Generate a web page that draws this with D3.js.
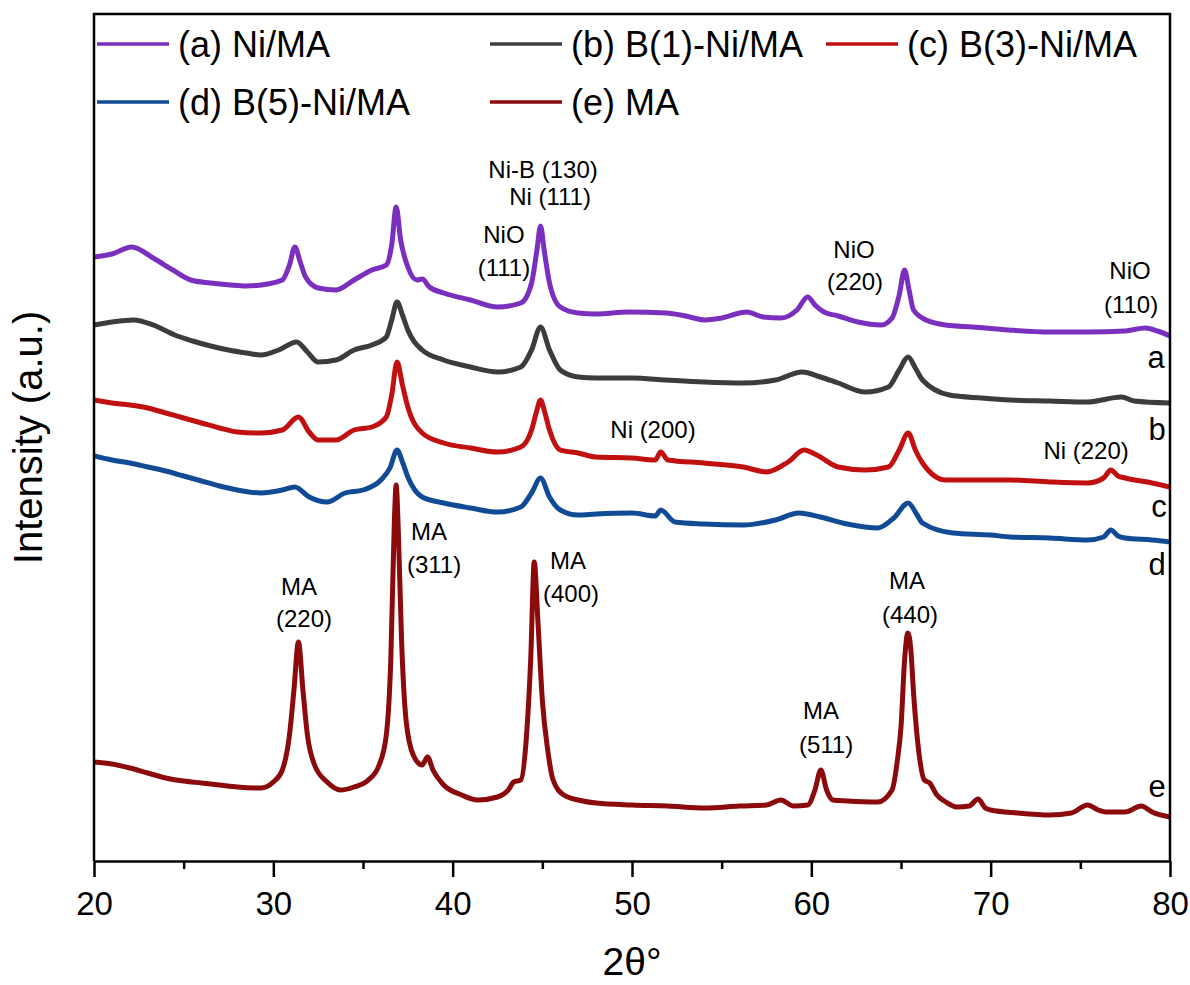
<!DOCTYPE html>
<html>
<head>
<meta charset="utf-8">
<script src="https://cdn.jsdelivr.net/npm/d3@7"></script>
<style>
  body { margin: 0; background: #fff; }
  svg text { font-family: "Liberation Sans", Arial, sans-serif; fill: #000; }
</style>
</head>
<body>
<div id="xrd"></div>
<script>
// XRD patterns, 2theta (deg) vs intensity (a.u., stacked as plotted)
var names = ["(a) Ni/MA", "(b) B(1)-Ni/MA", "(c) B(3)-Ni/MA", "(d) B(5)-Ni/MA", "(e) MA"];
var colors = ["#7b2fbe", "#3c3c3c", "#c0100f", "#114b95", "#8b0a0c"];
var curveTags = ["a", "b", "c", "d", "e"];
var xTicks = [20, 30, 40, 50, 60, 70, 80];

var niMA = [[20,604],[21,607],[22.1,614],[23.3,603],[24.4,591],[25.4,581],[26.5,578],[27.6,576],[28.5,575],[29.3,576],
  [30.5,581],[30.9,596],[31.2,614],[31.5,599],[31.8,584],[32.5,573],[33.5,571],[34.5,581],[35.5,591],[36.3,596],
  [36.6,616],[36.85,654],[37.1,621],[37.5,594],[38.0,581],[38.3,582],[38.7,574],[39.5,568],[41,561],[42.5,554],
  [43.8,558],[44.4,578],[44.7,611],[44.9,635],[45.1,611],[45.4,578],[46,554],[47,548],[48,547],[49.8,549],
  [51.9,548],[53,545],[54.07,541],[55,543],[56.4,549],[57.3,544],[58.3,543],[59.2,551],[59.8,564],[60.2,556],
  [60.7,549],[61.5,545],[62.6,539],[63.9,536],[64.5,543],[64.9,566],[65.2,591],[65.45,571],[65.7,551],[66.4,541],
  [67.5,536],[69,534],[71,531],[73.3,529],[75.4,529],[77.5,530],[78.6,533],[79.3,530],[80,525]];

var b1NiMA = [[20,536],[21,539],[22.2,541],[23.3,536],[24.5,526],[25.5,520],[26.5,515],[27.5,511],[28.5,508],[29.3,506],
  [30.3,511],[31.3,519],[31.9,509],[32.5,499],[33.5,501],[34.5,511],[35.5,516],[36.3,524],[36.6,541],[36.9,559],
  [37.2,546],[37.5,531],[38.3,511],[39.5,501],[41,494],[42.5,489],[43.8,494],[44.4,511],[44.9,534],[45.4,511],
  [46,491],[47,484],[48,483],[50,483],[51.9,481],[54,479],[56.2,478],[58,481],[59.5,489],[60.5,484],
  [61.5,478],[63,469],[64.3,474],[64.9,491],[65.4,504],[65.8,493],[66.2,481],[67.7,466],[69.5,463],[71.1,461],
  [73.3,460],[75.4,459],[77.3,464],[78,460],[80,458]];

var b3NiMA = [[20,461],[21,458],[22,456],[23,453],[24,448],[25,443],[26,438],[27,433],[28,429],[29.3,428],
  [30.5,431],[31.4,444],[32,429],[32.5,421],[33.5,421],[34.5,431],[35.5,434],[36.3,444],[36.6,466],[36.9,499],
  [37.2,476],[37.5,454],[38.3,428],[39.5,418],[41,413],[42.5,409],[43.8,414],[44.4,431],[44.7,451],[44.9,461],
  [45.1,451],[45.4,431],[46,411],[47,408],[48,404],[50,403],[51.3,401],[51.6,409],[52,401],[54,398],
  [56.2,394],[57.5,389],[58.7,399],[59.6,411],[60.3,406],[61.5,394],[63,391],[64.3,394],[64.9,411],[65.4,428],
  [65.8,411],[66.2,398],[67.5,381],[69,381],[71.1,381],[73.3,379],[75.4,378],[76.3,383],[76.7,391],[77.1,385],
  [77.5,383],[79,378],[80,374]];

var b5NiMA = [[20,405],[21,401],[22,398],[23,394],[24,390],[25,385],[26,380],[27,375],[28,371],[29.3,368],
  [30.5,371],[31.2,374],[32,364],[33,359],[34,368],[35,371],[36,381],[36.5,393],[36.9,411],[37.2,399],
  [37.5,384],[38.3,364],[39.5,358],[41,353],[42.5,349],[43.8,354],[44.4,368],[44.9,383],[45.4,364],[46,351],
  [47,346],[48,347],[50,348],[51.3,345],[51.6,351],[52.4,339],[54,337],[56.2,336],[58,341],[59.3,348],
  [60.5,344],[62,337],[63.7,333],[64.6,343],[65.4,358],[65.9,346],[66.2,338],[67.9,328],[70,326],[71.1,324],
  [73.3,323],[75.4,321],[76.3,324],[76.7,331],[77.1,325],[77.5,323],[79,321],[80,319]];

var MA = [[20,99],[21,97],[22,93],[23,88],[24,83],[25,80],[26,78],[27,76],[28,74],[29.3,73],
  [30,79],[30.5,91],[30.9,126],[31.15,171],[31.4,219],[31.65,171],[31.9,126],[32.3,96],[33,79],[33.75,71],
  [34.5,74],[35.3,81],[35.9,96],[36.3,126],[36.55,201],[36.75,341],[36.85,376],[36.95,341],[37.15,221],[37.4,141],
  [37.8,106],[38.3,96],[38.6,104],[38.9,91],[39.5,76],[40.5,66],[41.4,61],[42.5,64],[43.1,71],[43.4,79],
  [43.8,81],[44.1,121],[44.35,201],[44.55,299],[44.75,241],[45.0,161],[45.3,111],[45.6,81],[46.2,66],[47,61],
  [48,58],[50,56],[52,55],[54.07,53],[56,55],[57.5,56],[58.3,61],[59,55],[59.8,56],[60.2,71],
  [60.53,91],[60.85,71],[61.2,61],[62,60],[63.7,59],[64.5,71],[64.8,101],[65.0,134],[65.2,201],[65.38,228],
  [65.55,211],[65.7,168],[66.0,108],[66.3,81],[66.6,78],[67,66],[67.5,59],[68.1,54],[68.8,55],[69.3,62],
  [69.7,53],[70,51],[71.5,48],[73.3,46],[74.5,48],[75.4,56],[76,51],[76.5,49],[77.5,49],[78.4,55],
  [79,49],[80,44]];

var series = [niMA, b1NiMA, b3NiMA, b5NiMA, MA];

// peak labels: [text, 2theta, intensity]
var peakLabels = [
  ["Ni-B (130)", 45.04, 683], ["Ni (111)", 45.43, 656],
  ["NiO", 42.86, 618], ["(111)", 42.86, 585],
  ["NiO", 62.38, 603], ["(220)", 62.44, 571],
  ["NiO", 77.77, 582], ["(110)", 77.83, 548],
  ["Ni (200)", 51.17, 423], ["Ni (220)", 75.32, 402],
  ["MA", 31.43, 266], ["(220)", 31.71, 234],
  ["MA", 38.68, 321], ["(311)", 38.96, 288],
  ["MA", 46.43, 292], ["(400)", 46.6, 259],
  ["MA", 60.54, 142], ["(511)", 60.82, 108],
  ["MA", 65.34, 272], ["(440)", 65.5, 238]
];
// curve tags near right edge: [2theta, intensity]
var tagPos = [[79.22, 493], [79.28, 421], [79.39, 344], [79.28, 286], [79.28, 64]];

var W = 1190, H = 985;
var plotL = 94, plotR = 1170, plotT = 14, plotB = 861;

var svg = d3.select("#xrd").append("svg")
  .attr("width", W)
  .attr("height", H);

var x = d3.scaleLinear().domain([20, 80]).range([plotL, plotR]);
var y = d3.scaleLinear().domain([0, 847]).range([plotB, plotT]);

svg.append("clipPath").attr("id", "clip")
  .append("rect")
    .attr("x", plotL).attr("y", plotT)
    .attr("width", plotR - plotL).attr("height", plotB - plotT);

// curves
var line = d3.line()
  .curve(d3.curveMonotoneX)
  .x(function(d) { return x(d[0]); })
  .y(function(d) { return y(d[1]); });

svg.append("g").attr("clip-path", "url(#clip)")
  .selectAll("path")
  .data(series)
  .enter()
  .append("path")
    .attr("d", line)
    .attr("fill", "none")
    .attr("stroke", function(d, i) { return colors[i]; })
    .attr("stroke-width", 5)
    .attr("stroke-linejoin", "round");

// minor ticks
svg.append("g")
  .attr("transform", "translate(0," + plotB + ")")
  .call(d3.axisBottom(x).tickValues([25, 35, 45, 55, 65, 75]).tickSize(8).tickFormat(""))
  .call(function(g) { g.select(".domain").remove(); })
  .selectAll("line").attr("stroke-width", 2.5);

// x axis
var xAxis = svg.append("g")
  .attr("transform", "translate(0," + plotB + ")")
  .call(d3.axisBottom(x).tickValues(xTicks).tickSize(16).tickPadding(15).tickSizeOuter(0));
xAxis.select(".domain").attr("stroke-width", 2.5);
xAxis.selectAll(".tick line").attr("stroke-width", 2.5);
xAxis.selectAll("text")
  .style("font-family", "Liberation Sans, Arial, sans-serif")
  .style("font-size", "33px");

// frame: left, top, right
svg.append("path")
  .attr("d", "M" + plotL + "," + plotB + "V" + plotT + "H" + plotR + "V" + plotB)
  .attr("fill", "none")
  .attr("stroke", "#000")
  .attr("stroke-width", 2.5);

// axis titles
svg.append("text")
  .attr("x", (plotL + plotR) / 2)
  .attr("y", 975)
  .attr("text-anchor", "middle")
  .style("font-size", "39px")
  .text("2θ°");

svg.append("text")
  .attr("transform", "translate(42," + (plotT + plotB) / 2 + ") rotate(-90)")
  .attr("text-anchor", "middle")
  .style("font-size", "40px")
  .text("Intensity (a.u.)");

// peak labels
svg.selectAll(".peak")
  .data(peakLabels)
  .enter()
  .append("text")
    .attr("class", "peak")
    .attr("x", function(d) { return x(d[1]); })
    .attr("y", function(d) { return y(d[2]); })
    .attr("text-anchor", "middle")
    .style("font-size", "24px")
    .text(function(d) { return d[0]; });

svg.selectAll(".tag")
  .data(tagPos)
  .enter()
  .append("text")
    .attr("class", "tag")
    .attr("x", function(d) { return x(d[0]); })
    .attr("y", function(d) { return y(d[1]); })
    .attr("text-anchor", "middle")
    .style("font-size", "31px")
    .text(function(d, i) { return curveTags[i]; });

// legend
var legendCols = [97, 490, 826];
var legendRows = [44, 102];
var legend = svg.append("g");
names.forEach(function(n, i) {
  var lx = legendCols[i % 3], ly = legendRows[Math.floor(i / 3)];
  legend.append("line")
    .attr("x1", lx).attr("x2", lx + 72)
    .attr("y1", ly).attr("y2", ly)
    .attr("stroke", colors[i])
    .attr("stroke-width", 3.5);
  legend.append("text")
    .attr("x", lx + 81)
    .attr("y", ly + 13)
    .style("font-size", "36px")
    .text(n);
});
</script>
</body>
</html>
